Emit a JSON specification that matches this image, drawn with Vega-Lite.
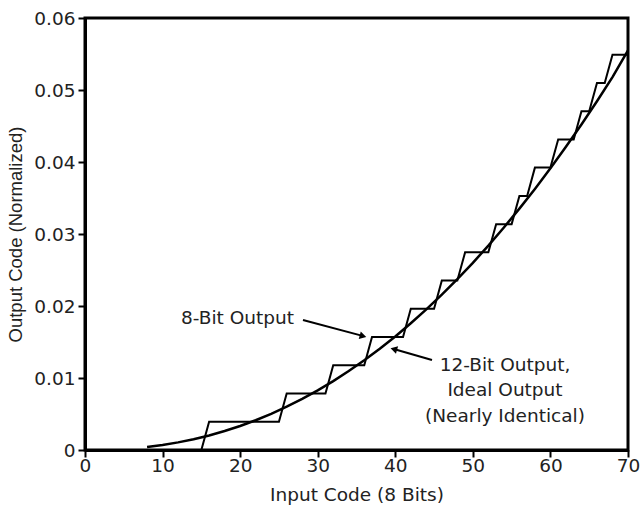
{
  "$schema": "https://vega.github.io/schema/vega-lite/v6.json",
  "width": 543,
  "height": 432,
  "autosize": "none",
  "padding": {"left": 85, "top": 18, "right": 12, "bottom": 57},
  "background": "white",
  "config": {
    "view": {"stroke": "black", "strokeWidth": 3},
    "axis": {"grid": false}
  },
  "datasets": {
    "curve": [
      {"x": 8, "y": 0.00043}, {"x": 10, "y": 0.00071}, {"x": 12, "y": 0.00106}, {"x": 14, "y": 0.0015},
      {"x": 16, "y": 0.00202}, {"x": 18, "y": 0.00264}, {"x": 20, "y": 0.00334}, {"x": 22, "y": 0.00413},
      {"x": 24, "y": 0.00502}, {"x": 26, "y": 0.00601}, {"x": 28, "y": 0.00709}, {"x": 30, "y": 0.00828},
      {"x": 32, "y": 0.00957}, {"x": 34, "y": 0.01097}, {"x": 36, "y": 0.01246}, {"x": 38, "y": 0.01406},
      {"x": 40, "y": 0.01577}, {"x": 42, "y": 0.0176}, {"x": 44, "y": 0.01953}, {"x": 46, "y": 0.02158},
      {"x": 48, "y": 0.02373}, {"x": 50, "y": 0.026}, {"x": 52, "y": 0.02839}, {"x": 54, "y": 0.0309},
      {"x": 56, "y": 0.03352}, {"x": 58, "y": 0.03626}, {"x": 60, "y": 0.03912}, {"x": 62, "y": 0.04211},
      {"x": 64, "y": 0.04521}, {"x": 66, "y": 0.04844}, {"x": 68, "y": 0.05179}, {"x": 70, "y": 0.0555}
    ],
    "stair": [
      {"x": 0, "y": 0}, {"x": 15, "y": 0}, {"x": 16, "y": 0.00392}, {"x": 25, "y": 0.00392},
      {"x": 26, "y": 0.00784}, {"x": 31, "y": 0.00784}, {"x": 32, "y": 0.01176}, {"x": 36, "y": 0.01176},
      {"x": 37, "y": 0.01569}, {"x": 41, "y": 0.01569}, {"x": 42, "y": 0.01961}, {"x": 45, "y": 0.01961},
      {"x": 46, "y": 0.02353}, {"x": 48, "y": 0.02353}, {"x": 49, "y": 0.02745}, {"x": 52, "y": 0.02745},
      {"x": 53, "y": 0.03137}, {"x": 55, "y": 0.03137}, {"x": 56, "y": 0.03529}, {"x": 57, "y": 0.03529},
      {"x": 58, "y": 0.03922}, {"x": 60, "y": 0.03922}, {"x": 61, "y": 0.04314}, {"x": 63, "y": 0.04314},
      {"x": 64, "y": 0.04706}, {"x": 65, "y": 0.04706}, {"x": 66, "y": 0.05098}, {"x": 67, "y": 0.05098},
      {"x": 68, "y": 0.0549}, {"x": 70, "y": 0.0549}
    ],
    "labels": [
      {"x": 19.66, "y": 0.0175, "text": "8-Bit Output"},
      {"x": 54.14, "y": 0.01101, "text": "12-Bit Output,"},
      {"x": 54.14, "y": 0.0075, "text": "Ideal Output"},
      {"x": 54.14, "y": 0.00393, "text": "(Nearly Identical)"}
    ],
    "arrows": [
      {"x": 28.1, "y": 0.01806, "x2": 35.9, "y2": 0.01582},
      {"x": 44.73, "y": 0.0125, "x2": 39.8, "y2": 0.01402}
    ],
    "heads": [
      {"x": 35.84, "y": 0.01583, "shape": "triangle-right", "angle": 15},
      {"x": 39.81, "y": 0.01401, "shape": "triangle-left", "angle": 16}
    ]
  },
  "layer": [
    {
      "data": {"name": "curve"},
      "mark": {"type": "line", "color": "black", "strokeWidth": 2.5},
      "encoding": {
        "x": {
          "field": "x", "type": "quantitative",
          "scale": {"domain": [0, 70], "nice": false},
          "title": "Input Code (8 Bits)",
          "axis": {
            "values": [0, 10, 20, 30, 40, 50, 60, 70],
            "ticks": true, "zindex": 1,
            "tickSize": 7, "tickWidth": 2, "tickColor": "black",
            "encode": {"ticks": {"update": {"y2": {"value": -7}}}},
            "domainColor": "black", "domainWidth": 3,
            "labelFont": "DejaVu Sans", "labelFontSize": 18.5, "labelColor": "#222",
            "labelPadding": -1, "labelFlush": false,
            "titleFont": "DejaVu Sans", "titleFontSize": 18.5, "titleFontWeight": "normal",
            "titleColor": "#222", "titlePadding": 11
          }
        },
        "y": {
          "field": "y", "type": "quantitative",
          "scale": {"domain": [0, 0.06], "nice": false},
          "title": "Output Code (Normalized)",
          "axis": {
            "values": [0, 0.01, 0.02, 0.03, 0.04, 0.05, 0.06],
            "format": ".2~f",
            "ticks": true, "zindex": 1,
            "tickSize": 7, "tickWidth": 2, "tickColor": "black",
            "encode": {"ticks": {"update": {"x2": {"value": 7}}}},
            "domainColor": "black", "domainWidth": 3,
            "labelFont": "DejaVu Sans", "labelFontSize": 18.5, "labelColor": "#222",
            "labelPadding": 3,
            "titleFont": "Liberation Sans", "titleFontSize": 18.5, "titleFontWeight": "normal",
            "titleColor": "#222", "titlePadding": 8
          }
        }
      }
    },
    {
      "data": {"name": "stair"},
      "mark": {"type": "line", "color": "black", "strokeWidth": 2},
      "encoding": {
        "x": {"field": "x", "type": "quantitative"},
        "y": {"field": "y", "type": "quantitative"}
      }
    },
    {
      "data": {"name": "arrows"},
      "mark": {"type": "rule", "color": "black", "strokeWidth": 2},
      "encoding": {
        "x": {"field": "x", "type": "quantitative"},
        "y": {"field": "y", "type": "quantitative"},
        "x2": {"field": "x2"},
        "y2": {"field": "y2"}
      }
    },
    {
      "data": {"name": "heads"},
      "mark": {"type": "point", "filled": true, "color": "black", "opacity": 1, "size": 60},
      "encoding": {
        "x": {"field": "x", "type": "quantitative"},
        "y": {"field": "y", "type": "quantitative"},
        "shape": {"field": "shape", "type": "nominal", "scale": null},
        "angle": {"field": "angle", "type": "quantitative", "scale": null}
      }
    },
    {
      "data": {"name": "labels"},
      "mark": {"type": "text", "font": "DejaVu Sans", "fontSize": 18.5, "color": "#222", "align": "center", "baseline": "alphabetic"},
      "encoding": {
        "x": {"field": "x", "type": "quantitative"},
        "y": {"field": "y", "type": "quantitative"},
        "text": {"field": "text"}
      }
    }
  ]
}
